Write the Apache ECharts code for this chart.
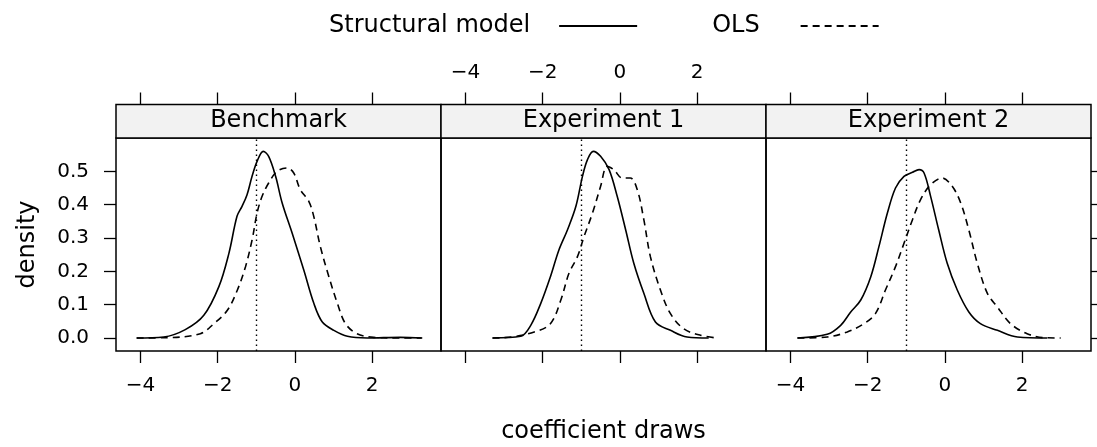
<!DOCTYPE html>
<html><head><meta charset="utf-8">
<script src="https://cdn.jsdelivr.net/npm/echarts@6/dist/echarts.min.js"></script>
<style>html,body{margin:0;padding:0;background:#fff}#c{width:1097px;height:447px}</style>
</head><body><div id="c"></div>
<script>
// ---- data ----
const panels = ['Benchmark', 'Experiment 1', 'Experiment 2'];
const seriesNames = ['Structural model', 'OLS'];
const xTicks = [-4, -2, 0, 2];
const yTicks = [0, 0.1, 0.2, 0.3, 0.4, 0.5];
const refLine = -1;
const benchStruct = [[-4.1,0],[-3.4,0.003],[-2.84,0.025],[-2.36,0.068],[-1.97,0.154],[-1.71,0.254],[-1.5,0.365],[-1.37,0.395],[-1.24,0.43],[-1.11,0.485],[-0.98,0.53],[-0.82,0.56],[-0.68,0.545],[-0.5,0.485],[-0.33,0.405],[-0.07,0.314],[0.23,0.204],[0.49,0.104],[0.71,0.048],[1.01,0.023],[1.36,0.005],[1.87,0.0],[2.73,0.002],[3.3,0]];
const benchOLS = [[-4.1,0],[-3.31,0.001],[-2.45,0.013],[-2.1,0.043],[-1.75,0.083],[-1.49,0.144],[-1.28,0.214],[-1.11,0.294],[-0.98,0.375],[-0.85,0.425],[-0.68,0.465],[-0.46,0.5],[-0.2,0.51],[-0.03,0.495],[0.14,0.445],[0.36,0.41],[0.49,0.364],[0.66,0.274],[0.88,0.184],[1.1,0.104],[1.31,0.043],[1.61,0.013],[2.04,0.002],[2.73,0],[3.28,0]];
const exp1Struct = [[-3.3,0],[-2.57,0.005],[-2.31,0.038],[-2.05,0.104],[-1.8,0.184],[-1.58,0.264],[-1.36,0.324],[-1.14,0.395],[-0.97,0.485],[-0.84,0.535],[-0.69,0.56],[-0.5,0.545],[-0.28,0.505],[-0.07,0.425],[0.15,0.324],[0.36,0.224],[0.62,0.134],[0.92,0.048],[1.31,0.023],[1.74,0.003],[2.3,0]];
const exp1OLS = [[-3.3,0],[-2.82,0.003],[-2.22,0.018],[-1.8,0.043],[-1.53,0.114],[-1.32,0.194],[-1.1,0.244],[-0.93,0.304],[-0.71,0.375],[-0.5,0.455],[-0.33,0.515],[-0.16,0.505],[0.06,0.48],[0.27,0.48],[0.45,0.445],[0.62,0.355],[0.79,0.244],[1.05,0.144],[1.31,0.073],[1.65,0.028],[2.09,0.008],[2.52,0]];
const exp2Struct = [[-3.82,0],[-3.05,0.011],[-2.7,0.038],[-2.44,0.078],[-2.18,0.114],[-1.92,0.184],[-1.71,0.274],[-1.49,0.375],[-1.28,0.45],[-1.06,0.485],[-0.84,0.497],[-0.67,0.505],[-0.54,0.495],[-0.37,0.425],[-0.16,0.324],[0.06,0.224],[0.32,0.144],[0.62,0.078],[0.92,0.043],[1.36,0.023],[1.88,0.003],[2.65,0]];
const exp2OLS = [[-3.82,0],[-3.05,0.003],[-2.53,0.018],[-2.1,0.043],[-1.8,0.073],[-1.54,0.144],[-1.28,0.214],[-1.06,0.284],[-0.84,0.355],[-0.63,0.415],[-0.37,0.46],[-0.07,0.48],[0.19,0.455],[0.41,0.405],[0.62,0.324],[0.84,0.224],[1.1,0.134],[1.36,0.093],[1.7,0.043],[2.13,0.013],[2.56,0.001],[3.0,0]];
const structData = [benchStruct, exp1Struct, exp2Struct];
const olsData = [benchOLS, exp1OLS, exp2OLS];

// ---- layout / style ----
const FONT = 'DejaVu Sans';
const L0 = 116, PW = 325, TOP = 138, PH = 213, STRIP = 33.5;
const XMIN = -4.635, XMAX = 3.785, YMIN = -0.039, YMAX = 0.600;
const minus = v => String(v).replace('-', '\u2212');
const tickStyle = {color: '#000', width: 1.3};

const grids = [], xAxes = [], yAxes = [], series = [], graphics = [];
for (let i = 0; i < 3; i++) {
  grids.push({left: L0 + PW * i, top: TOP, width: PW, height: PH, show: true,
    borderColor: '#000', borderWidth: 1.5, backgroundColor: 'transparent', outerBoundsMode: 'none'});
  const common = {type: 'value', gridIndex: i, min: XMIN, max: XMAX,
    axisLine: {show: false, onZero: false}, splitLine: {show: false}};
  xAxes.push(Object.assign({}, common, {position: 'bottom',
    axisTick: {show: true, length: 12, customValues: xTicks, lineStyle: tickStyle},
    axisLabel: {show: i !== 1, customValues: xTicks, margin: 25, color: '#000', fontFamily: FONT, fontSize: 20, formatter: minus},
    name: i === 1 ? 'coefficient draws' : '', nameLocation: 'middle', nameGap: 69,
    nameTextStyle: {color: '#000', fontFamily: FONT, fontSize: 24}}));
  xAxes.push(Object.assign({}, common, {position: 'top', offset: STRIP,
    axisTick: {show: true, length: 12, customValues: xTicks, lineStyle: tickStyle},
    axisLabel: {show: i === 1, customValues: xTicks, margin: 22, color: '#000', fontFamily: FONT, fontSize: 20, formatter: minus}}));
  yAxes.push({type: 'value', gridIndex: i, min: YMIN, max: YMAX, show: i !== 1,
    position: i === 2 ? 'right' : 'left',
    axisLine: {show: false, onZero: false}, splitLine: {show: false},
    axisTick: {show: true, length: 12, customValues: yTicks, lineStyle: tickStyle},
    axisLabel: {show: i === 0, customValues: yTicks, margin: 27, color: '#000', fontFamily: FONT, fontSize: 20, formatter: v => v.toFixed(1)},
    name: i === 0 ? 'density' : '', nameLocation: 'middle', nameGap: 76, nameRotate: 90,
    nameTextStyle: {color: '#000', fontFamily: FONT, fontSize: 24}});
  series.push({type: 'line', name: seriesNames[0], xAxisIndex: 2 * i, yAxisIndex: i, data: structData[i],
    symbol: 'none', smooth: 0.35, lineStyle: {color: '#000', width: 1.6}, itemStyle: {color: '#000'},
    markLine: {silent: true, symbol: ['none', 'none'], label: {show: false},
      lineStyle: {color: '#000', type: [1.5, 3.5], width: 1.4}, data: [{xAxis: refLine}]}});
  series.push({type: 'line', name: seriesNames[1], xAxisIndex: 2 * i, yAxisIndex: i, data: olsData[i],
    symbol: 'none', smooth: 0.35, lineStyle: {color: '#000', width: 1.6, type: [7, 5]}, itemStyle: {color: '#000'}});
  graphics.push({type: 'rect', z: 10, shape: {x: L0 + PW * i, y: TOP - STRIP, width: PW, height: STRIP},
    style: {fill: '#f2f2f2', stroke: '#000', lineWidth: 1.5}});
  graphics.push({type: 'text', z: 11, x: L0 + PW * i + PW / 2, y: TOP - STRIP / 2,
    style: {text: panels[i], font: '24px "DejaVu Sans"', fill: '#000', align: 'center', verticalAlign: 'middle', textAlign: 'center', textVerticalAlign: 'middle'}});
}

const chart = echarts.init(document.getElementById('c'), null, {renderer: 'canvas'});
chart.setOption({
  animation: false,
  backgroundColor: '#fff',
  legend: {left: 324, top: 9, itemGap: 74, itemWidth: 78, itemHeight: 14, align: 'right', selectedMode: false,
    itemStyle: {opacity: 0},
    textStyle: {color: '#000', fontFamily: FONT, fontSize: 24, padding: [0, 24, 0, 0]},
    data: [{name: seriesNames[0]}, {name: seriesNames[1], textStyle: {padding: [0, 36, 0, 0]}}]},
  grid: grids, xAxis: xAxes, yAxis: yAxes, series: series, graphic: graphics
});
</script></body></html>
